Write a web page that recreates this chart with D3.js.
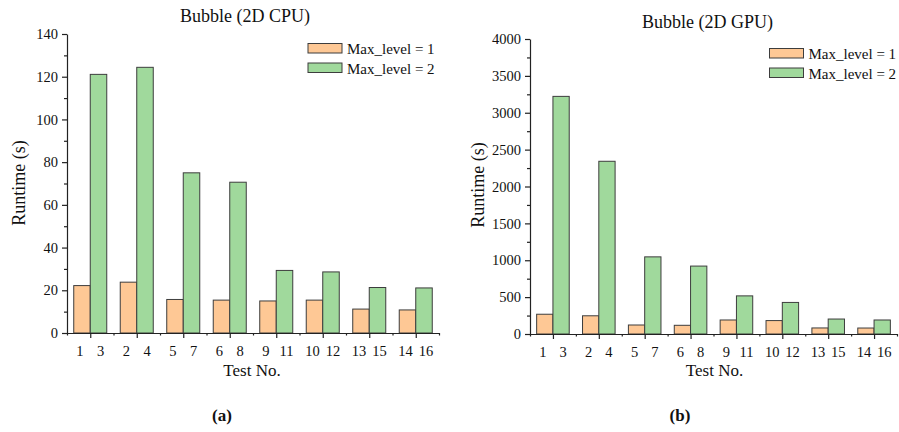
<!DOCTYPE html>
<html>
<head>
<meta charset="utf-8">
<script src="https://cdn.jsdelivr.net/npm/d3@7"></script>
<style>
  html, body { margin: 0; padding: 0; background: #fff; }
  svg { display: block; }
  svg text { font-family: "Liberation Serif", "Times New Roman", Tinos, "DejaVu Serif", serif !important; fill: #111; }
</style>
</head>
<body>
<svg id="chart" width="899" height="432"></svg>
<script>
// Test numbers under each bar pair
const level1Tests = [1, 2, 5, 6, 9, 10, 13, 14];
const level2Tests = [3, 4, 7, 8, 11, 12, 15, 16];

// Runtime (s), 2D CPU
const cpuLevel1 = [22.2, 23.8, 15.7, 15.4, 15.0, 15.4, 11.2, 10.8];
const cpuLevel2 = [121.1, 124.4, 75.0, 70.6, 29.3, 28.6, 21.3, 21.1];
const cpuTicks = [0, 20, 40, 60, 80, 100, 120, 140];

// Runtime (s), 2D GPU
const gpuLevel1 = [268, 247, 122, 118, 190, 182, 82, 81];
const gpuLevel2 = [3222, 2342, 1046, 921, 517, 428, 203, 190];
const gpuTicks = [0, 500, 1000, 1500, 2000, 2500, 3000, 3500, 4000];

const seriesNames = ["Max_level = 1", "Max_level = 2"];
const seriesColors = ["#FEC895", "#A0D99C"];
const strokeColor = "#3d3d3d";
const FONT = '"Liberation Serif", "Times New Roman", Tinos, "DejaVu Serif", serif';

const svg = d3.select("#chart").attr("font-family", FONT);

function drawPanel(cfg) {
  const g = svg.append("g");
  const n = cfg.level1.length;
  const yMax = cfg.ticks[cfg.ticks.length - 1];

  const x = d3.scaleBand().domain(d3.range(n)).range([cfg.left, cfg.right]).padding(0);
  const xl = d3.scaleLinear().domain([0, n]).range([cfg.left, cfg.right]);
  const y = d3.scaleLinear().domain([0, yMax]).range([cfg.bottom, cfg.top]);
  const bw = x.bandwidth() * 0.355;
  const cx = i => x(i) + x.bandwidth() / 2;

  // bars
  const series = [cfg.level1, cfg.level2];
  series.forEach((vals, s) => {
    g.append("g").selectAll("rect").data(vals).join("rect")
      .attr("x", (d, i) => s === 0 ? cx(i) - bw : cx(i))
      .attr("y", d => y(d))
      .attr("width", bw)
      .attr("height", d => y(0) - y(d))
      .attr("fill", seriesColors[s])
      .attr("stroke", strokeColor)
      .attr("stroke-width", 1);
  });

  // y axis: major + minor ticks
  const yAxis = g.append("g").attr("transform", `translate(${cfg.left},0)`)
    .call(d3.axisLeft(y).tickValues(cfg.ticks).tickFormat(d3.format("d"))
      .tickSize(5).tickSizeOuter(0).tickPadding(4));
  const minorY = cfg.ticks.slice(0, -1).map((t, i) => (t + cfg.ticks[i + 1]) / 2);
  g.append("g").attr("transform", `translate(${cfg.left},0)`)
    .call(d3.axisLeft(y).tickValues(minorY).tickSize(3).tickFormat(""))
    .select(".domain").remove();
  yAxis.attr("font-family", FONT).attr("font-size", 14.5);

  // x axis: ticks at group centres, short ticks at group boundaries
  g.append("g").attr("transform", `translate(0,${cfg.bottom})`)
    .call(d3.axisBottom(xl).tickValues(d3.range(n + 1)).tickSize(2.5).tickSizeOuter(0).tickFormat(""));
  g.append("g").attr("transform", `translate(0,${cfg.bottom})`)
    .call(d3.axisBottom(xl).tickValues(d3.range(n).map(i => i + 0.5)).tickSize(5).tickFormat(""))
    .select(".domain").remove();

  g.selectAll(".domain, .tick line").attr("stroke", "#222").attr("stroke-width", 1.2);

  // test number labels
  const labels = [];
  cfg.level1.forEach((d, i) => {
    labels.push({ t: level1Tests[i], x: cx(i) - bw / 2 - 2 });
    labels.push({ t: level2Tests[i], x: cx(i) + bw / 2 + 2 });
  });
  g.append("g").selectAll("text").data(labels).join("text")
    .attr("x", d => d.x).attr("y", cfg.bottom + 23)
    .attr("text-anchor", "middle").attr("font-size", 14.5)
    .text(d => d.t);

  // axis titles
  g.append("text").attr("x", cfg.xTitleX).attr("y", 376)
    .attr("text-anchor", "middle").attr("font-size", 17).text("Test No.");
  g.append("text")
    .attr("transform", `translate(${cfg.yTitleX},${cfg.yTitleY}) rotate(-90)`)
    .attr("text-anchor", "middle").attr("font-size", 18).text("Runtime (s)");

  // chart title
  g.append("text").attr("x", cfg.titleX).attr("y", cfg.titleY)
    .attr("text-anchor", "middle").attr("font-size", 18).text(cfg.title);

  // legend
  const lg = g.append("g");
  seriesNames.forEach((name, s) => {
    const yy = cfg.legendY + s * 19.5;
    lg.append("rect").attr("x", cfg.legendX).attr("y", yy)
      .attr("width", 34).attr("height", 9.5)
      .attr("fill", seriesColors[s]).attr("stroke", strokeColor).attr("stroke-width", 1);
    lg.append("text").attr("x", cfg.legendX + 39).attr("y", yy + 10.5)
      .attr("font-size", 15).text(name);
  });

  // panel tag
  g.append("text").attr("x", cfg.tagX).attr("y", 421)
    .attr("text-anchor", "middle").attr("font-size", 17).attr("font-weight", "bold")
    .text(cfg.tag);
}

drawPanel({
  level1: cpuLevel1, level2: cpuLevel2, ticks: cpuTicks,
  left: 67, right: 439, top: 34, bottom: 333,
  title: "Bubble (2D CPU)", titleX: 245, titleY: 22,
  xTitleX: 252, yTitleX: 25, yTitleY: 183,
  legendX: 308, legendY: 43.5,
  tag: "(a)", tagX: 222
});

drawPanel({
  level1: gpuLevel1, level2: gpuLevel2, ticks: gpuTicks,
  left: 530, right: 897, top: 39, bottom: 334,
  title: "Bubble (2D GPU)", titleX: 707.5, titleY: 28,
  xTitleX: 714.5, yTitleX: 484, yTitleY: 185,
  legendX: 769.5, legendY: 48.5,
  tag: "(b)", tagX: 680
});
</script>
</body>
</html>
